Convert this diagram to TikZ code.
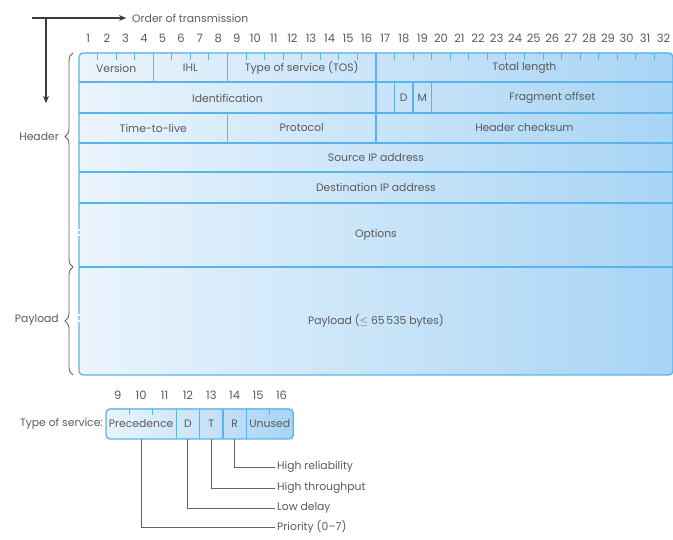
\documentclass[tikz,border=0pt]{standalone}
\usepackage{fontspec}
\setmainfont{Poppins}
\usetikzlibrary{decorations.pathreplacing,arrows.meta}
\definecolor{txt}{HTML}{5A5A5A}
\definecolor{bord}{HTML}{5AB3EA}
\definecolor{fillL}{HTML}{EAF4FC}
\definecolor{fillR}{HTML}{A8D4F5}
\definecolor{conn}{HTML}{626262}
\definecolor{arr}{HTML}{3C3C3C}
\begin{document}
\begin{tikzpicture}[x=1pt,y=-1pt,
  font=\fontsize{10.8}{12}\selectfont,
  every node/.style={text=txt},
  bline/.style={draw=bord,line width=1.3pt},
  tick/.style={draw=bord,line width=1pt},
  fld/.style={inner sep=0pt,minimum height=#1},
  num/.style={inner sep=0pt,font=\fontsize{11.5}{12}\selectfont},
  ordarrow/.style={draw=arr,line width=1.1pt,-{Stealth[length=7pt,width=6pt]}},
  bracestyle/.style={draw=conn,line width=0.9pt,decorate},
  connline/.style={draw=conn,line width=0.9pt},
  lbl/.style={inner sep=2pt}]
\useasboundingbox (0,0) rectangle (673,540);

% order of transmission
\coordinate (oa) at (32,18);
\node[anchor=west,inner sep=2pt] (ot) at (130,18) {Order of transmission};
\draw[ordarrow,shorten >=4pt] (oa) -- (ot.west);
\coordinate (va) at (46,18);
\coordinate (vb) at (46,103);
\draw[ordarrow] (va) -- (vb);

% main box
\begin{scope}[shift={(79,0)},x=18.56pt]
  \fill[left color=fillL,right color=fillR,rounded corners=4pt] (0,53) rectangle (32,375);
  \foreach \y in {82,113,143,172,203,267} \draw[bline] (0,\y) -- (32,\y);
  \foreach \xx in {4,8,16} \draw[bline] (\xx,53) -- (\xx,82);
  \foreach \xx in {16,17,18,19} \draw[bline] (\xx,82) -- (\xx,113);
  \foreach \xx in {8,16} \draw[bline] (\xx,113) -- (\xx,143);
  \foreach \xx in {1,2,3,5,6,7,9,10,11,12,13,14,15,17,18,19,20,21,22,23,24,25,26,27,28,29,30,31}
    \draw[tick] (\xx,53) -- (\xx,60);
  \draw[bline,rounded corners=4pt] (0,53) rectangle (32,375);
  % variable length marks
  \fill[white] (-0.09,229) rectangle (0.09,231);
  \fill[white] (-0.09,234) rectangle (0.09,236);
  \fill[white] (-0.09,314) rectangle (0.09,316);
  \fill[white] (-0.09,320) rectangle (0.09,322);
  \foreach \i in {1,...,32} \node[num] (b\i) at (\i-0.5,38) {\i};
  % fields
  \node[fld=29pt,minimum width=4*18.56pt] (ver) at (2,68) {Version};
  \node[fld=29pt,minimum width=4*18.56pt] (ihl) at (6,68) {IHL};
  \node[fld=29pt,minimum width=8*18.56pt] (tos) at (12,68) {Type of service (TOS)};
  \node[fld=29pt,minimum width=16*18.56pt] (tl) at (24,68) {Total length};
  \node[fld=31pt,minimum width=16*18.56pt] (id) at (8,98) {Identification};
  \node[fld=31pt,minimum width=18.56pt] (df) at (17.5,98) {D};
  \node[fld=31pt,minimum width=18.56pt] (mf) at (18.5,98) {M};
  \node[fld=31pt,minimum width=13*18.56pt] (fo) at (25.5,98) {Fragment offset};
  \node[fld=30pt,minimum width=8*18.56pt] (ttl) at (4,128) {Time-to-live};
  \node[fld=30pt,minimum width=8*18.56pt] (prot) at (12,128) {Protocol};
  \node[fld=30pt,minimum width=16*18.56pt] (hc) at (24,128) {Header checksum};
  \node[fld=29pt,minimum width=32*18.56pt] (src) at (16,157.5) {Source IP address};
  \node[fld=31pt,minimum width=32*18.56pt] (dst) at (16,187.5) {Destination IP address};
  \node[fld=64pt,minimum width=32*18.56pt] (opt) at (16,235) {Options};
  \node[fld=108pt,minimum width=32*18.56pt] (pay) at (16,321) {Payload ($\leq$ 65\,535 bytes)};
\end{scope}

% braces
\coordinate (h1) at (73,267);
\coordinate (h2) at (73,53);
\coordinate (p1) at (73,375);
\coordinate (p2) at (73,267);
\draw[bracestyle,decoration={brace,amplitude=8pt,aspect=0.61}] (h1) -- (h2);
\draw[bracestyle,decoration={brace,amplitude=8pt,aspect=0.5}] (p1) -- (p2);
\node[anchor=east,inner sep=0pt] (hdr) at (59,137) {Header};
\node[anchor=east,inner sep=0pt] (pl) at (59,320) {Payload};

% type of service detail
\node[anchor=east,inner sep=0pt] (tosl) at (103,424) {Type of service:};
\begin{scope}[shift={(106,0)},x=23.4pt]
  \fill[left color=fillL,right color=fillR,rounded corners=4pt] (0,409) rectangle (8,439);
  \foreach \xx in {3,4,5,6} \draw[bline] (\xx,409) -- (\xx,439);
  \foreach \xx in {1,2,7} \draw[tick] (\xx,409) -- (\xx,415);
  \draw[bline,rounded corners=4pt] (0,409) rectangle (8,439);
  \foreach \i in {9,...,16} \node[num] (c\i) at (\i-8.5,395) {\i};
  \node[fld=30pt,minimum width=3*23.4pt] (prec) at (1.5,424) {Precedence};
  \node[fld=30pt,minimum width=23.4pt] (dd) at (3.5,424) {D};
  \node[fld=30pt,minimum width=23.4pt] (tt) at (4.5,424) {T};
  \node[fld=30pt,minimum width=23.4pt] (rr) at (5.5,424) {R};
  \node[fld=30pt,minimum width=2*23.4pt] (un) at (7,424) {Unused};
\end{scope}

\node[lbl,anchor=west] (hrel) at (275,467) {High reliability};
\node[lbl,anchor=west] (hthr) at (275,488) {High throughput};
\node[lbl,anchor=west] (ldel) at (275,508) {Low delay};
\node[lbl,anchor=west] (prio) at (275,527) {Priority (0–7)};
\draw[connline] (rr.south) |- (hrel.west);
\draw[connline] (tt.south) |- (hthr.west);
\draw[connline] (dd.south) |- (ldel.west);
\draw[connline] (prec.south) |- (prio.west);
\end{tikzpicture}
\end{document}
